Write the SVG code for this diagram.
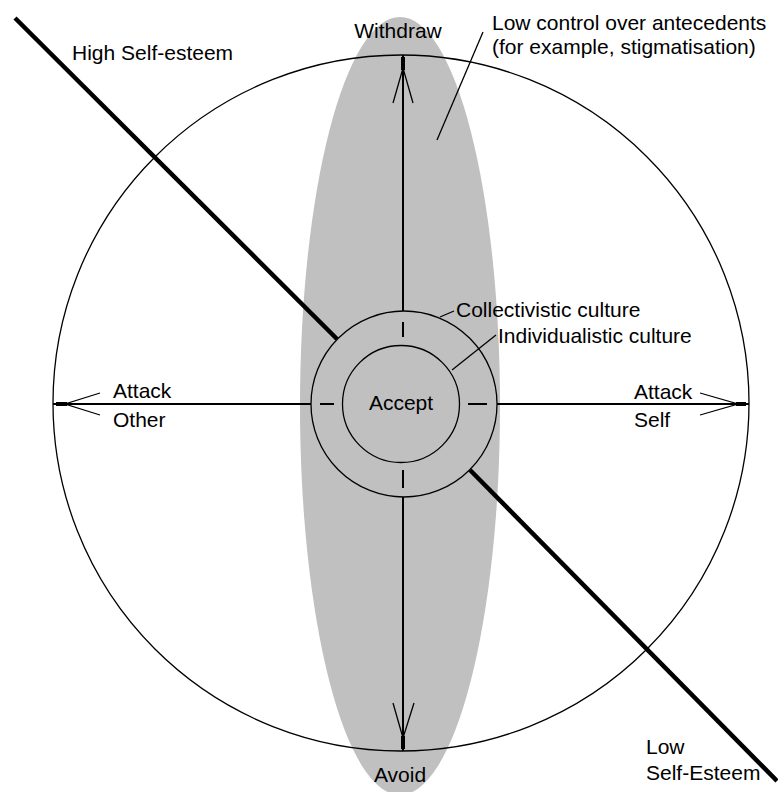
<svg xmlns="http://www.w3.org/2000/svg" width="778" height="792" viewBox="0 0 778 792">
<style>
text{font-family:"Liberation Sans",Arial,sans-serif;font-size:21px;fill:#000}
.thin{stroke:#000;stroke-width:1.3;fill:none}
.axis{stroke:#000;stroke-width:2;fill:none}
.thick{stroke:#000;stroke-width:4.5;fill:none}
.mid{text-anchor:middle}
</style>
<rect width="778" height="792" fill="#fff"/>
<g id="low-control-region">
<ellipse cx="400" cy="406" rx="100" ry="389" fill="#c0c0c0"/>
</g>
<g id="outer-circle">
<circle cx="401" cy="403" r="348" class="thin"/>
</g>
<g id="collectivistic-ring">
<circle cx="404" cy="404" r="93" class="thin"/>
</g>
<g id="individualistic-ring">
<circle cx="401" cy="404" r="58.5" class="thin"/>
</g>
<g id="connectors">
<!-- axes -->
<line x1="403" y1="55" x2="403" y2="311" class="axis"/>
<line x1="403" y1="497" x2="403" y2="751" class="axis"/>
<line x1="53" y1="404" x2="311" y2="404" class="axis"/>
<line x1="497" y1="404" x2="749" y2="404" class="axis"/>
<!-- ticks -->
<line x1="403" y1="322" x2="403" y2="337" class="axis"/>
<line x1="403" y1="470" x2="403" y2="488" class="axis"/>
<line x1="320" y1="404" x2="334" y2="404" class="axis"/>
<line x1="468" y1="404" x2="487" y2="404" class="axis"/>
<!-- arrowheads -->
<rect x="401" y="57" width="4" height="13" fill="#000"/>
<polyline points="393,103 403,68 413,103" class="thin"/>
<rect x="401" y="736" width="4" height="13" fill="#000"/>
<polyline points="393,703 403,738 414,703" class="thin"/>
<rect x="56" y="402" width="11" height="4" fill="#000"/>
<polyline points="100,393 65,404 100,415" class="thin"/>
<rect x="736" y="402" width="10" height="4" fill="#000"/>
<polyline points="700,393 738,404 700,415" class="thin"/>
<!-- self-esteem diagonal -->
<line x1="15" y1="18" x2="337" y2="339" class="thick"/>
<line x1="470" y1="470" x2="777" y2="781" class="thick"/>
<!-- leaders -->
<line x1="483" y1="32" x2="437" y2="140" class="thin"/>
<line x1="454" y1="311" x2="440" y2="317" class="thin"/>
<line x1="496" y1="335" x2="452" y2="370" class="thin"/>
</g>
<g id="withdraw"><text x="398" y="38" class="mid">Withdraw</text></g>
<g id="avoid"><text x="400" y="782" class="mid">Avoid</text></g>
<g id="accept"><text x="401" y="410" class="mid">Accept</text></g>
<g id="attack-other"><text x="113" y="398">Attack</text><text x="113" y="427">Other</text></g>
<g id="attack-self"><text x="634" y="399">Attack</text><text x="634" y="427">Self</text></g>
<g id="low-control-label"><text x="492" y="30">Low control over antecedents</text><text x="492" y="54">(for example, stigmatisation)</text></g>
<g id="collectivistic-label"><text x="456" y="317">Collectivistic culture</text></g>
<g id="individualistic-label"><text x="498" y="343">Individualistic culture</text></g>
<g id="high-self-esteem"><text x="72" y="60">High Self-esteem</text></g>
<g id="low-self-esteem"><text x="646" y="754">Low</text><text x="646" y="780">Self-Esteem</text></g>
</svg>
